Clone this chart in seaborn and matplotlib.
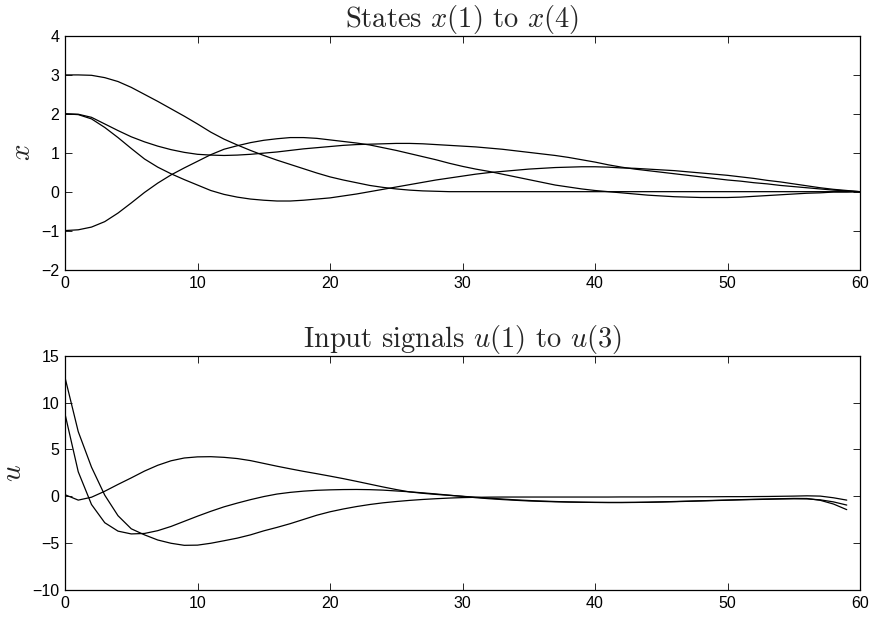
import numpy as np
import pandas as pd
import matplotlib
matplotlib.use("Agg")
import matplotlib.pyplot as plt
import seaborn as sns

# ---------------- data ----------------
t_x = list(range(0, 61))
x1 = [3.00, 3.00, 2.99, 2.93, 2.83, 2.68, 2.50, 2.32, 2.13, 1.94,
      1.74, 1.53, 1.35, 1.20, 1.06, 0.93, 0.81, 0.70, 0.59, 0.48,
      0.38, 0.30, 0.23, 0.16, 0.11, 0.07, 0.04, 0.02, 0.01, 0.00,
      0.00, 0.00, 0.00, 0.00, 0.00, 0.00, 0.00, 0.00, 0.00, 0.00,
      0.00, 0.00, 0.00, 0.00, 0.00, 0.00, 0.00, 0.00, 0.00, 0.00,
      0.00, 0.00, 0.00, 0.00, 0.00, 0.00, 0.00, 0.00, 0.00, 0.00, 0.00]
x2 = [2.00, 1.99, 1.91, 1.74, 1.57, 1.41, 1.28, 1.17, 1.08, 1.01,
      0.96, 0.94, 0.93, 0.94, 0.96, 0.99, 1.02, 1.06, 1.10, 1.13,
      1.16, 1.19, 1.21, 1.22, 1.23, 1.24, 1.24, 1.23, 1.21, 1.19,
      1.17, 1.15, 1.12, 1.09, 1.05, 1.01, 0.97, 0.93, 0.88, 0.82,
      0.76, 0.69, 0.63, 0.58, 0.54, 0.50, 0.46, 0.42, 0.38, 0.34,
      0.30, 0.27, 0.23, 0.20, 0.16, 0.13, 0.10, 0.07, 0.04, 0.02, 0.00]
x3 = [2.00, 1.98, 1.87, 1.65, 1.39, 1.11, 0.84, 0.63, 0.46, 0.31,
      0.17, 0.03, -0.07, -0.14, -0.19, -0.22, -0.24, -0.24, -0.22, -0.19,
      -0.16, -0.11, -0.06, 0.00, 0.06, 0.12, 0.18, 0.24, 0.30, 0.35,
      0.40, 0.45, 0.49, 0.52, 0.55, 0.58, 0.60, 0.62, 0.63, 0.64,
      0.64, 0.63, 0.61, 0.60, 0.58, 0.56, 0.54, 0.51, 0.48, 0.45,
      0.42, 0.38, 0.34, 0.29, 0.25, 0.20, 0.15, 0.10, 0.06, 0.03, 0.00]
x4 = [-1.00, -0.98, -0.91, -0.77, -0.55, -0.29, -0.02, 0.22, 0.43, 0.61,
      0.78, 0.95, 1.09, 1.18, 1.26, 1.32, 1.36, 1.39, 1.39, 1.37,
      1.33, 1.29, 1.25, 1.20, 1.13, 1.06, 0.98, 0.90, 0.82, 0.73,
      0.65, 0.58, 0.52, 0.45, 0.38, 0.31, 0.24, 0.17, 0.12, 0.07,
      0.03, 0.00, -0.03, -0.06, -0.09, -0.11, -0.13, -0.14, -0.15, -0.15,
      -0.15, -0.14, -0.12, -0.10, -0.08, -0.06, -0.04, -0.03, -0.01, -0.01, 0.00]

t_u = list(range(0, 60))
u1 = [12.7, 6.9, 3.1, 0.1, -2.1, -3.5, -4.15, -4.7, -5.05, -5.27,
      -5.25, -5.05, -4.78, -4.5, -4.15, -3.72, -3.35, -2.95, -2.5, -2.05,
      -1.68, -1.38, -1.12, -0.9, -0.72, -0.58, -0.46, -0.36, -0.28, -0.21,
      -0.16, -0.13, -0.11, -0.10, -0.10, -0.10, -0.10, -0.10, -0.10, -0.10,
      -0.10, -0.10, -0.09, -0.09, -0.09, -0.08, -0.08, -0.08, -0.07, -0.07,
      -0.06, -0.06, -0.05, -0.04, -0.02, 0.00, 0.03, 0.0, -0.18, -0.43]
u2 = [8.8, 2.6, -0.9, -2.85, -3.75, -4.05, -4.0, -3.7, -3.25, -2.7,
      -2.15, -1.63, -1.15, -0.75, -0.38, -0.05, 0.22, 0.40, 0.53, 0.62,
      0.67, 0.70, 0.71, 0.69, 0.64, 0.55, 0.46, 0.35, 0.23, 0.10,
      -0.03, -0.17, -0.28, -0.37, -0.45, -0.52, -0.57, -0.61, -0.64, -0.66,
      -0.68, -0.69, -0.69, -0.68, -0.66, -0.63, -0.60, -0.56, -0.52, -0.48,
      -0.44, -0.40, -0.37, -0.34, -0.31, -0.29, -0.30, -0.40, -0.62, -0.96]
u3 = [0.15, -0.43, -0.12, 0.52, 1.25, 1.95, 2.68, 3.30, 3.78, 4.08,
      4.20, 4.22, 4.15, 4.02, 3.80, 3.50, 3.20, 2.92, 2.65, 2.40,
      2.14, 1.87, 1.58, 1.28, 0.98, 0.70, 0.45, 0.30, 0.18, 0.08,
      -0.02, -0.12, -0.22, -0.31, -0.40, -0.47, -0.53, -0.58, -0.62, -0.65,
      -0.67, -0.68, -0.68, -0.67, -0.65, -0.62, -0.58, -0.54, -0.50, -0.46,
      -0.42, -0.38, -0.34, -0.31, -0.28, -0.25, -0.26, -0.45, -0.85, -1.45]

x_ticks = [0, 10, 20, 30, 40, 50, 60]
x_yticks = [-2, -1, 0, 1, 2, 3, 4]
u_yticks = [-10, -5, 0, 5, 10, 15]

# ---------------- style ----------------
sns.set_style("ticks")
plt.rcParams["font.family"] = ["Liberation Sans", "DejaVu Sans"]
plt.rcParams["mathtext.fontset"] = "cm"
plt.rcParams["xtick.direction"] = "in"
plt.rcParams["ytick.direction"] = "in"
plt.rcParams["xtick.top"] = True
plt.rcParams["ytick.right"] = True
plt.rcParams["axes.linewidth"] = 0.9
plt.rcParams["axes.edgecolor"] = "black"

fig = plt.figure(figsize=(8.74, 6.19), dpi=100)
ax1 = fig.add_axes([65 / 874, 1 - 269.5 / 619, (860 - 65) / 874, (269.5 - 36) / 619])
ax2 = fig.add_axes([65 / 874, 1 - 589.5 / 619, (860 - 65) / 874, (589.5 - 356) / 619])

df_x = pd.DataFrame({"t": t_x * 4,
                     "value": x1 + x2 + x3 + x4,
                     "series": ["x1"] * 61 + ["x2"] * 61 + ["x3"] * 61 + ["x4"] * 61})
df_u = pd.DataFrame({"t": t_u * 3,
                     "value": u1 + u2 + u3,
                     "series": ["u1"] * 60 + ["u2"] * 60 + ["u3"] * 60})

sns.lineplot(data=df_x, x="t", y="value", hue="series",
             palette=["black"] * 4, linewidth=0.9, legend=False, ax=ax1)
sns.lineplot(data=df_u, x="t", y="value", hue="series",
             palette=["black"] * 3, linewidth=0.9, legend=False, ax=ax2)


def style(ax, yticks, ylim, title, ylabel):
    ax.set_xlim(0, 60)
    ax.set_ylim(*ylim)
    ax.set_xticks(x_ticks)
    ax.set_yticks(yticks)
    ax.set_xticklabels([str(v) for v in x_ticks])
    ax.set_yticklabels([str(v).replace("-", "\u2212") for v in yticks])
    ax.tick_params(axis="both", which="both", length=5, width=0.6,
                   labelsize=11.5, colors="black")
    ax.tick_params(axis="x", pad=5)
    ax.tick_params(axis="y", pad=4)
    for s in ax.spines.values():
        s.set_visible(True)
        s.set_color("black")
    ax.set_title(title, fontsize=20.5, pad=1, family="cmr10")
    ax.set_ylabel(ylabel, fontsize=21, labelpad=4)
    ax.set_xlabel("")


style(ax1, x_yticks, (-2, 4), r"States $x(1)$ to $x(4)$", r"$x$")
style(ax2, u_yticks, (-10, 15), r"Input signals $u(1)$ to $u(3)$", r"$u$")

fig.savefig("out.png", dpi=100, facecolor="white")
